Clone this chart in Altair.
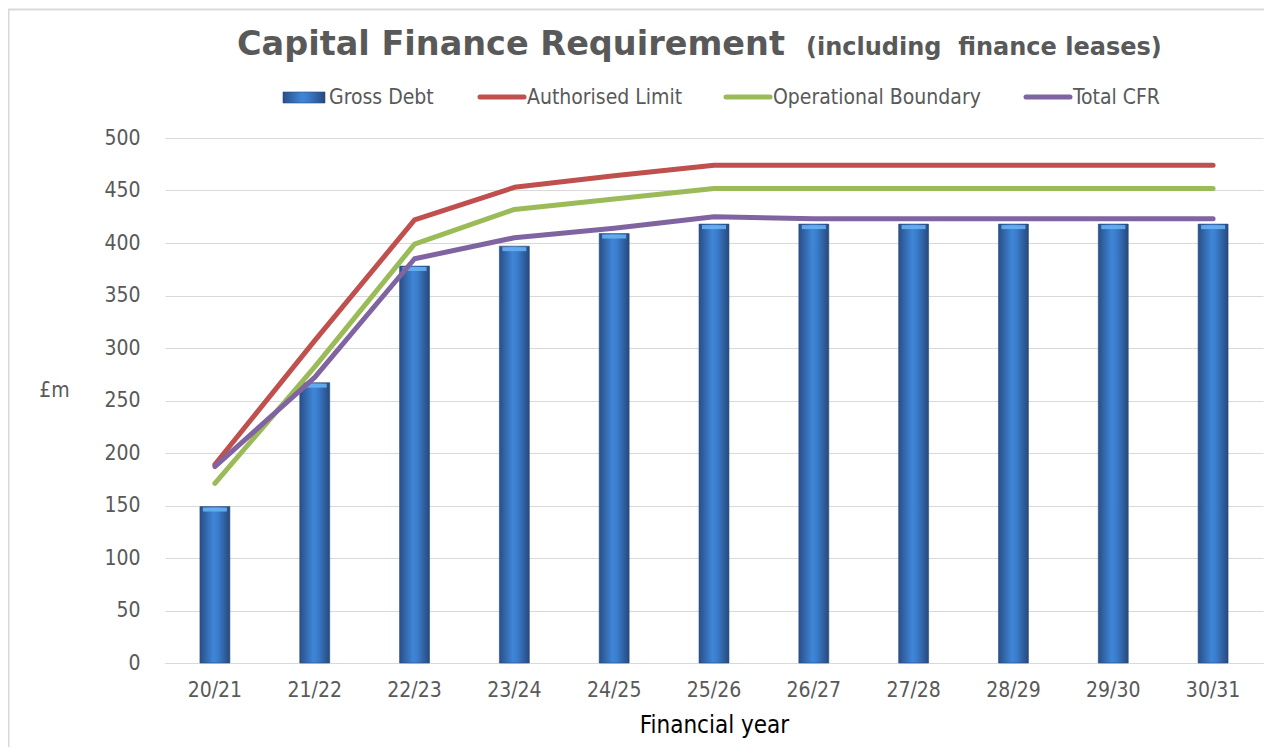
import altair as alt
import pandas as pd

# ---- data ----
years = ["20/21", "21/22", "22/23", "23/24", "24/25", "25/26",
         "26/27", "27/28", "28/29", "29/30", "30/31"]
gross_debt = [149, 267, 378, 397, 409, 418, 418, 418, 418, 418, 418]
authorised_limit = [189, 307, 422, 453, 464, 474, 474, 474, 474, 474, 474]
operational_boundary = [171, 282, 399, 432, 442, 452, 452, 452, 452, 452, 452]
total_cfr = [187, 272, 385, 405, 414, 425, 423, 423, 423, 423, 423]
y_ticks = [0, 50, 100, 150, 200, 250, 300, 350, 400, 450, 500]

series_names = ["Gross Debt", "Authorised Limit", "Operational Boundary", "Total CFR"]
title_main = "Capital Finance Requirement"
title_sub = "(including\u00a0\u00a0finance leases)"
y_title = "£m"
x_title = "Financial year"

# ---- styling ----
FONT = "DejaVu Sans Condensed"
TITLE_FONT = "DejaVu Sans"
GREY = "#595959"
GRID = "#D9D9D9"
line_colors = ["#C0504D", "#9BBB59", "#8064A2"]

bars_df = pd.DataFrame({"year": years, "value": gross_debt})
lines_df = pd.concat([
    pd.DataFrame({"year": years, "value": vals, "series": name, "order": i})
    for i, (name, vals) in enumerate(zip(series_names[1:],
                                         [authorised_limit, operational_boundary, total_cfr]))
])

x_enc = alt.X("year:N", sort=years,
              scale=alt.Scale(paddingInner=0.7, paddingOuter=0.35),
              axis=alt.Axis(title=x_title, labelAngle=0, labelFont=FONT, labelFontSize=21,
                            labelColor=GREY, labelPadding=16, ticks=False,
                            domainColor=GRID, domainWidth=1,
                            titleFont=FONT, titleFontSize=24, titleFontWeight="normal",
                            titleColor="#000000", titleBaseline="alphabetic", titleY=69))
y_enc = alt.Y("value:Q", scale=alt.Scale(domain=[0, 500], nice=False),
              axis=alt.Axis(values=y_ticks, title=y_title, titleAngle=0, titleX=-111, titleY=252,
                            titleAlign="center", titleBaseline="middle", titleFont=FONT,
                            titleFontSize=21, titleFontWeight="normal", titleColor=GREY,
                            labelFont=FONT, labelFontSize=21, labelColor=GREY, labelPadding=25,
                            ticks=False, domain=False, gridColor=GRID, gridWidth=1.2))

bar_fill = alt.LinearGradient(
    gradient="linear", x1=0, x2=1, y1=0, y2=0,
    stops=[alt.GradientStop(offset=0, color="#284F88"),
           alt.GradientStop(offset=0.45, color="#3F86D8"),
           alt.GradientStop(offset=0.6, color="#3A7DCC"),
           alt.GradientStop(offset=1, color="#27497C")])

bars = alt.Chart(bars_df).mark_bar(color=bar_fill, stroke="#2A4B7A", strokeWidth=0.6).encode(
    x=x_enc, y=y_enc)

caps = alt.Chart(bars_df).mark_tick(color="#66B0F2", size=24, thickness=4, yOffset=3,
                                    opacity=0.9).encode(
    x=alt.X("year:N", sort=years), y=alt.Y("value:Q"))

lines = alt.Chart(lines_df).mark_line(strokeWidth=5, strokeCap="round", strokeJoin="round").encode(
    x=alt.X("year:N", sort=years),
    y=alt.Y("value:Q"),
    color=alt.Color("series:N", scale=alt.Scale(domain=series_names[1:], range=line_colors),
                    legend=None),
    order=alt.Order("order:Q"))

one = alt.InlineData(values=[{"k": 0}])

def text_layer(txt, x, y, size, weight="normal", color=GREY, align="left",
               baseline="alphabetic", font=FONT):
    return alt.Chart(one).mark_text(text=txt, font=font, fontSize=size, fontWeight=weight,
                                    color=color, align=align, baseline=baseline).encode(
        x=alt.value(x), y=alt.value(y))

title1 = text_layer(title_main, 72, -83, 33.5, weight="bold", font=TITLE_FONT)
title2 = text_layer(title_sub, 641, -83, 24, weight="bold", font=TITLE_FONT)

# legend
legend_layers = []
legend_layers.append(
    alt.Chart(one).mark_rect(color=bar_fill, stroke="#2A4B7A", strokeWidth=0.6).encode(
        x=alt.value(118), x2=alt.value(160), y=alt.value(-46), y2=alt.value(-35)))
legend_layers.append(text_layer(series_names[0], 164, -40, 21, baseline="middle"))
line_x = [315, 561, 861]
for name, col, lx in zip(series_names[1:], line_colors, line_x):
    legend_layers.append(
        alt.Chart(one).mark_rule(color=col, strokeWidth=5, strokeCap="round").encode(
            x=alt.value(lx), x2=alt.value(lx + 44), y=alt.value(-41)))
    legend_layers.append(text_layer(name, lx + 47, -40, 21, baseline="middle"))

border = alt.Chart(one).mark_rect(fill=None, stroke=GRID, strokeWidth=2).encode(
    x=alt.value(-156.5), x2=alt.value(1200), y=alt.value(-128.5), y2=alt.value(700))

chart = alt.layer(border, bars, caps, lines, title1, title2, *legend_layers).properties(
    width=1098, height=525,
    autosize=alt.AutoSizeParams(type="none"),
    padding={"left": 157, "top": 130, "right": 1, "bottom": 84},
).configure(font=FONT).configure_view(stroke=None)

chart.save("out.html", embed_options={"renderer": "svg", "actions": False})
